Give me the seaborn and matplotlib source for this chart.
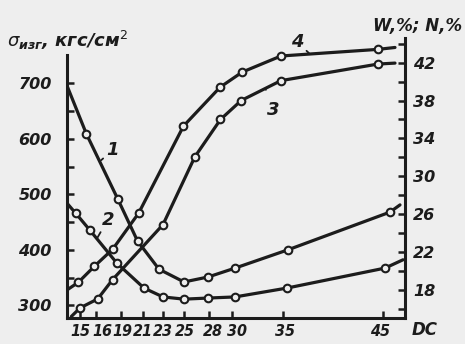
import numpy as np
import matplotlib
matplotlib.use('Agg')
import matplotlib.pyplot as plt
import matplotlib.transforms as mtransforms
import seaborn as sns

# x axis of the original is drawn unevenly: DC value -> position along the axis
dc_knots = [0, 14.25, 15, 16, 19, 21, 23, 25, 28, 30, 35, 45, 47.2, 100]
axis_pos = [-178, 0, 13, 29, 54, 76, 96, 117, 142, 165, 216, 316, 338, 866]

dc_ticks = [15, 16, 19, 21, 23, 25, 28, 30, 35, 45]

# curve 1, 2: bending strength (left axis), curve 3, 4: W, N % (right axis)
c1_dc = [14.25, 15.4, 18.6, 20.5, 22.6, 25.0, 27.9, 30.3, 35.5, 45.7, 46.7]
c1_s = [696, 609, 492, 416, 365, 342, 351, 367, 400, 468, 481]

c2_dc = [14.25, 14.75, 15.6, 18.5, 21.1, 23.0, 25.0, 27.9, 30.3, 35.4, 45.2, 47.0]
c2_s = [484, 466, 436, 376, 331, 315, 311, 313, 315, 331, 367, 382]

c3_dc = [14.5, 15.0, 16.2, 18.0, 23.0, 26.3, 29.0, 30.9, 34.8, 44.5, 46.2]
c3_w = [15.2, 16.1, 17.05, 19.1, 24.9, 32.05, 36.0, 38.0, 40.1, 41.85, 41.95]

c4_dc = [14.25, 14.9, 15.9, 18.0, 20.6, 24.95, 28.96, 31.0, 34.8, 44.5, 46.2]
c4_w = [18.0, 18.8, 20.5, 22.3, 26.1, 35.3, 39.4, 41.0, 42.7, 43.4, 43.6]

left_ticks = [300, 400, 500, 600, 700]
right_ticks = [18, 22, 26, 30, 34, 38, 42]

ink = '#1c1c1c'
paper = '#eeeeee'

sns.set_theme(style='ticks', rc={'axes.facecolor': paper, 'figure.facecolor': paper})
plt.rcParams['font.family'] = ['DejaVu Sans']


def fwd(x):
    return np.interp(x, dc_knots, axis_pos)


def inv(p):
    return np.interp(p, axis_pos, dc_knots)


fig = plt.figure(figsize=(4.65, 3.44), dpi=100)
ax = fig.add_axes([67 / 465, 26 / 344, 338 / 465, 280 / 344])
ax2 = ax.twinx()
ax.set_xscale('function', functions=(fwd, inv))
ax.set_xlim(14.25, 47.2)
ax.set_ylim(277, 782)
ax2.set_ylim(15.04, 44.6)


def draw(a, xs, ys):
    sns.lineplot(x=xs, y=ys, ax=a, color=ink, linewidth=2.3, estimator=None, sort=False)
    sns.scatterplot(x=xs[1:-1], y=ys[1:-1], ax=a, marker='o', s=30, color=paper,
                    edgecolor=ink, linewidth=1.5, zorder=4)


draw(ax, c1_dc, c1_s)
draw(ax, c2_dc, c2_s)
draw(ax2, c3_dc, c3_w)
draw(ax2, c4_dc, c4_w)

for a in (ax, ax2):
    for s in a.spines.values():
        s.set_linewidth(2.2)
        s.set_color(ink)
    a.spines['top'].set_visible(False)
ax.spines['right'].set_visible(False)
ax2.spines['left'].set_visible(False)
ax2.spines['bottom'].set_visible(False)
ax.spines['left'].set_bounds(277, 752)

tick_font = dict(fontsize=11.5, fontweight='bold', fontstyle='italic', color=ink)

ax.set_xticks(dc_ticks)
ax.set_xticklabels([str(v) for v in dc_ticks], fontsize=11.5, fontweight='bold',
                   fontstyle='italic', fontstretch='condensed', color=ink)
ax.xaxis.set_minor_locator(matplotlib.ticker.NullLocator())
ax.tick_params(axis='x', direction='in', length=5, width=1.8, pad=4, color=ink)

# labels in the original sit a little off their ticks
label_shift = [0, 6, 1, 0, 0, 1, 4, 5, 2, -3]
for t, dx in zip(ax.get_xticklabels(), label_shift):
    t.set_transform(t.get_transform() + mtransforms.ScaledTranslation(dx / 100, 0, fig.dpi_scale_trans))

ax.set_yticks(left_ticks)
ax.set_yticklabels([str(v) for v in left_ticks], **tick_font)
ax.set_yticks([350, 450, 550, 650], minor=True)
ax.tick_params(axis='y', which='both', direction='in', length=5, width=1.8, pad=11, color=ink)

ax2.set_yticks(right_ticks)
ax2.set_yticklabels([str(v) for v in right_ticks], **tick_font)
ax2.set_yticks([16, 20, 24, 28, 32, 36, 40, 44], minor=True)
ax2.tick_params(axis='y', which='both', direction='in', length=5, width=1.8, pad=6, color=ink)

ax.set_xlabel('')
ax.set_ylabel('')
ax2.set_ylabel('')

lab = dict(fontsize=13, fontweight='bold', fontstyle='italic', color=ink, ha='center', va='center')
arrow = dict(arrowstyle='-', color=ink, lw=1.3, shrinkA=6, shrinkB=1)
ax.annotate('1', xy=(16.5, 560), xytext=(18.0, 580), arrowprops=arrow, **lab)
ax.annotate('2', xy=(16.1, 420), xytext=(17.4, 454), arrowprops=arrow, **lab)
ax2.annotate('3', xy=(33.3, 39.2), xytext=(34.0, 37.0), arrowprops=arrow, **lab)
ax2.annotate('4', xy=(37.7, 42.9), xytext=(36.4, 44.2), arrowprops=arrow, annotation_clip=False, **lab)

fig.text(0.015, 1 - 40 / 344, r'$\sigma_{\mathregular{изг}}$, кгс/см$^{2}$', fontsize=13,
         fontweight='bold', fontstyle='italic', color=ink, ha='left', va='center')
fig.text(418 / 465, 1 - 26 / 344, 'W,%; N,%', fontsize=12, fontweight='bold',
         fontstyle='italic', color=ink, ha='center', va='center')
fig.text(425 / 465, 1 - 330 / 344, 'DC', fontsize=12, fontweight='bold',
         fontstyle='italic', color=ink, ha='center', va='center')

fig.savefig('out.png', dpi=100, facecolor=paper)
